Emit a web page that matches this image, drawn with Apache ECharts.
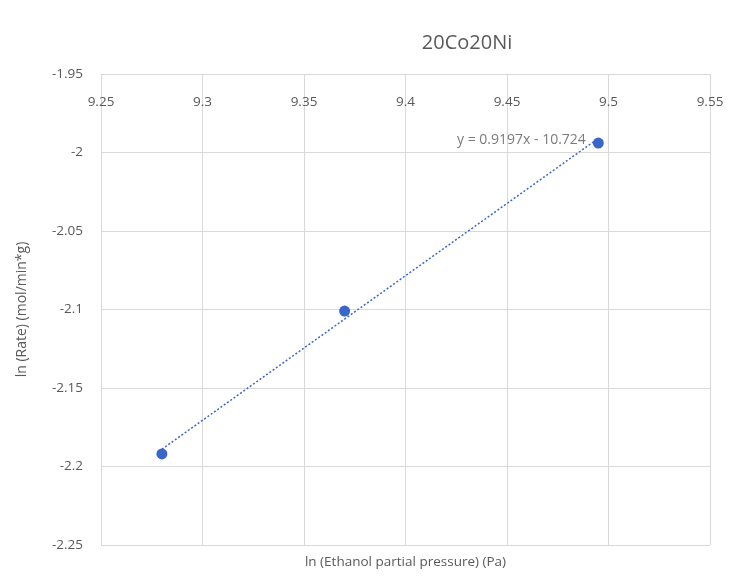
<!DOCTYPE html>
<html>
<head>
<meta charset="utf-8">
<script src="https://cdn.jsdelivr.net/npm/echarts@6/dist/echarts.min.js"></script>
<style>html,body{margin:0;padding:0;background:#fff}#c{width:737px;height:576px}</style>
</head>
<body>
<div id="c"></div>
<script>
var titleText = '20Co20Ni';
var xName = 'ln (Ethanol partial pressure) (Pa)';
var yName = 'ln (Rate) (mol/min*g)';
var xValues = [9.28, 9.37, 9.495];
var yValues = [-2.192, -2.101, -1.994];
var trendX = [9.28, 9.495];
var trendY = [-2.189, -1.991];
var trendLabel = 'y = 0.9197x - 10.724';

var pts = xValues.map(function (x, i) { return [x, yValues[i]]; });
var trend = trendX.map(function (x, i) { return [x, trendY[i]]; });

var gray = '#595959';
var blue = '#3A66C8';
var font = '"Open Sans", "Noto Sans", sans-serif';
var chart = echarts.init(document.getElementById('c'));
chart.setOption({
  animation: false,
  backgroundColor: '#fff',
  title: {
    text: titleText, left: 462, top: 28, textAlign: 'center',
    textStyle: { color: gray, fontSize: 20, fontWeight: 'normal', fontFamily: font }
  },
  grid: { left: 101, right: 27, top: 74, bottom: 31, containLabel: false },
  xAxis: {
    type: 'value', min: 9.25, max: 9.55, interval: 0.05, position: 'top',
    name: xName, nameLocation: 'middle', nameGap: -495,
    nameTextStyle: { color: gray, fontSize: 13.5, fontFamily: font },
    axisLine: { show: false }, axisTick: { show: false },
    axisLabel: { inside: true, margin: 21, color: gray, fontSize: 13.5, fontFamily: font,
      formatter: function (v) { return String(+v.toFixed(2)); } },
    splitLine: { show: true, lineStyle: { color: '#d9d9d9', width: 1 } }
  },
  yAxis: {
    type: 'value', min: -2.25, max: -1.95, interval: 0.05,
    name: yName, nameLocation: 'middle', nameGap: 72, nameRotate: 90,
    nameTextStyle: { color: gray, fontSize: 14, fontFamily: font },
    axisLine: { show: false }, axisTick: { show: false },
    axisLabel: { margin: 18, color: gray, fontSize: 13.5, fontFamily: font,
      formatter: function (v) { return String(+v.toFixed(2)); } },
    splitLine: { show: true, lineStyle: { color: '#d9d9d9', width: 1 } }
  },
  series: [
    {
      type: 'line', data: trend, symbol: 'none', silent: true,
      lineStyle: { color: blue, width: 1.5, type: [2, 2] },
      z: 2
    },
    {
      type: 'scatter', data: [trend[1]], symbol: 'circle', symbolSize: 1, silent: true,
      itemStyle: { color: 'rgba(0,0,0,0)' },
      label: { show: true, formatter: trendLabel, position: 'left', distance: 12,
        color: gray, fontSize: 14, fontFamily: font, offset: [0, 2] },
      z: 4
    },
    {
      type: 'scatter', data: pts, symbol: 'circle', symbolSize: 11,
      itemStyle: { color: blue, opacity: 1 }, z: 3
    }
  ]
});
</script>
</body>
</html>
